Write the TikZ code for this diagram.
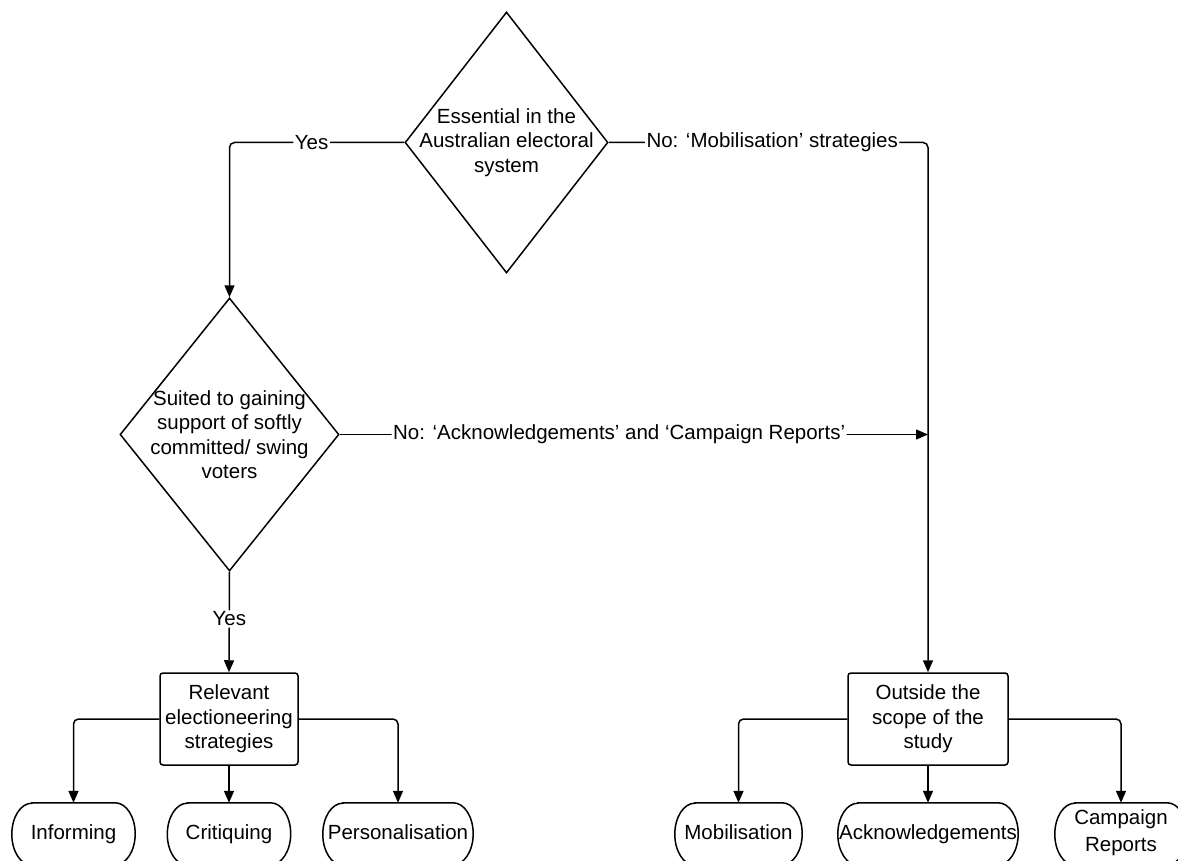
\documentclass[tikz,border=0pt]{standalone}
\usepackage{fontspec}
\setmainfont{Liberation Sans}
\usetikzlibrary{arrows.meta,shapes.geometric}

% outline of a terminator (flat top and bottom, elliptic ends)
\newcommand{\termoutline}[1]{%
  \draw[line width=1.5pt]
    ([xshift=20pt]#1.north west) -- ([xshift=-20pt]#1.north east)
    arc[start angle=90,end angle=-90,x radius=20pt,y radius=31pt]
    -- ([xshift=20pt]#1.south west)
    arc[start angle=270,end angle=90,x radius=20pt,y radius=31pt]
    -- cycle;}

\begin{document}
\begin{tikzpicture}[x=1pt,y=-1pt,
  every node/.style={font=\fontsize{20.5}{24.5}\selectfont},
  conn/.style={line width=1.5pt, rounded corners=5pt,
    -{Triangle[length=12pt,width=10pt]}},
  decision/.style={diamond, draw, line width=1.5pt, inner sep=0pt},
  txt/.style={align=center, inner sep=0pt},
  procbox/.style={draw, line width=1.5pt, rounded corners=3pt, align=center,
    inner sep=2pt, minimum height=92pt},
  lbl/.style={fill=white, inner sep=1.5pt},
  term/.style={align=center, inner sep=0pt, minimum height=62pt,
    text height=15pt, text depth=4pt},
]
\useasboundingbox (0,0) rectangle (1178,861);
\clip (0,0) rectangle (1178,861);

% decisions
\node[decision, minimum width=203pt, minimum height=261pt] (d1) at (506.5,142.5) {};
\node[txt] (d1t) at (d1.center) {Essential in the\\Australian electoral\\system};
\node[decision, minimum width=219pt, minimum height=273pt] (d2) at (229.5,434.5) {};
\node[txt] (d2t) at (d2.center) {Suited to gaining\\support of softly\\committed/ swing\\voters};

% process boxes
\node[procbox, minimum width=138pt] (b1) at (229,719) {Relevant\\electioneering\\strategies};
\node[procbox, minimum width=160pt] (b2) at (928,719) {Outside the\\scope of the\\study};

% terminators
\node[term, minimum width=123pt] (t1) at (73.5,834) {Informing};
\node[term, minimum width=123pt] (t2) at (229,834) {Critiquing};
\node[term, minimum width=150pt] (t3) at (398,834) {Personalisation};
\node[term, minimum width=127pt] (t4) at (738.5,834) {Mobilisation};
\node[term, minimum width=180pt] (t5) at (928,834) {Acknowledgements};
\node[term, minimum width=132pt] (t6) at (1121,834) {};
\node[txt, font=\fontsize{20.5}{27}\selectfont] (t6t) at ([yshift=1pt]t6.center) {Campaign\\Reports};
\foreach \t in {t1,t2,t3,t4,t5,t6} {\termoutline{\t}}

% connectors
\coordinate (j) at (b2.north |- d2.east);
\draw[conn] (d1.west) -| node[lbl, pos=0.265] {Yes} (d2.north);
\draw[conn] (d1.east) -| node[lbl, pos=0.256] {No: ‘Mobilisation’ strategies} (b2.north);
\draw[conn] (d2.east) -- node[lbl, pos=0.475] {No: ‘Acknowledgements’ and ‘Campaign Reports’} (j);
\draw[conn] (d2.south) -- node[lbl, pos=0.47] {Yes} (b1.north);

\draw[conn] (b1.west) -| (t1.north);
\draw[conn] (b1.south) -- (t2.north);
\draw[conn] (b1.east) -| (t3.north);
\draw[conn] (b2.west) -| (t4.north);
\draw[conn] (b2.south) -- (t5.north);
\draw[conn] (b2.east) -| (t6.north);
\end{tikzpicture}
\end{document}
